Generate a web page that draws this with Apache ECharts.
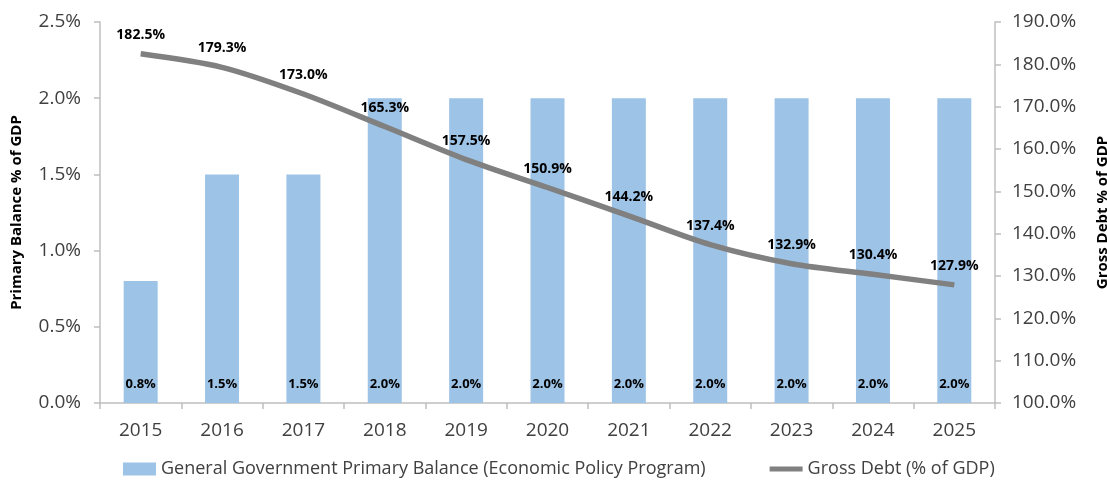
<!DOCTYPE html>
<html>
<head>
<meta charset="utf-8">
<script src="https://cdn.jsdelivr.net/npm/echarts@6/dist/echarts.min.js"></script>
<style>
  html, body { margin: 0; padding: 0; background: #fff; }
  #chart { width: 1107px; height: 483px; }
</style>
</head>
<body>
<div id="chart"></div>
<script>
// chart data
var years = ['2015', '2016', '2017', '2018', '2019', '2020', '2021', '2022', '2023', '2024', '2025']
var primaryBalance = [0.8, 1.5, 1.5, 2.0, 2.0, 2.0, 2.0, 2.0, 2.0, 2.0, 2.0]
var grossDebt = [182.5, 179.3, 173.0, 165.3, 157.5, 150.9, 144.2, 137.4, 132.9, 130.4, 127.9]

var barName = 'General Government Primary Balance (Economic Policy Program)'
var lineName = 'Gross Debt (% of GDP)'

var font = 'Open Sans'
var axisGray = '#bfbfbf'

var chart = echarts.init(document.getElementById('chart'))
chart.setOption({
  animation: false,
  textStyle: { fontFamily: font },
  grid: {
    left: 100,
    right: 112,
    top: 22,
    bottom: 80,
    containLabel: false,
    outerBoundsMode: 'none'
  },
  legend: {
    left: 118,
    bottom: 0,
    itemWidth: 33,
    itemHeight: 13,
    itemGap: 64,
    textStyle: { fontFamily: font, fontSize: 18, color: '#404040' },
    data: [
      { name: barName, icon: 'rect' },
      { name: lineName, icon: 'path://M0,0 L38,0 L38,6 L0,6 Z' }
    ]
  },
  xAxis: {
    type: 'category',
    data: years,
    axisLine: { lineStyle: { color: axisGray, width: 1.5 } },
    axisTick: { show: true, length: 6, lineStyle: { color: axisGray, width: 1.5 } },
    axisLabel: { fontSize: 19, color: '#404040', margin: 18 }
  },
  yAxis: [{
    type: 'value',
    min: 0,
    max: 2.5,
    interval: 0.5,
    name: 'Primary Balance % of GDP',
    nameLocation: 'middle',
    nameGap: 76,
    nameTextStyle: { fontFamily: font, fontSize: 15, fontWeight: 'bold', color: '#000' },
    axisLine: { show: true, lineStyle: { color: axisGray, width: 1.5 } },
    axisTick: { show: true, length: 6, lineStyle: { color: axisGray, width: 1.5 } },
    splitLine: { show: false },
    axisLabel: {
      fontSize: 19,
      color: '#404040',
      margin: 19,
      formatter: function (v) { return v.toFixed(1) + '%' }
    }
  }, {
    type: 'value',
    min: 100,
    max: 190,
    interval: 10,
    name: 'Gross Debt % of GDP',
    nameLocation: 'middle',
    nameGap: 100,
    nameTextStyle: { fontFamily: font, fontSize: 15, fontWeight: 'bold', color: '#000' },
    axisLine: { show: true, lineStyle: { color: axisGray, width: 1.5 } },
    axisTick: { show: true, length: 6, lineStyle: { color: axisGray, width: 1.5 } },
    splitLine: { show: false },
    axisLabel: {
      fontSize: 19,
      color: '#404040',
      margin: 17,
      formatter: function (v) { return v.toFixed(1) + '%' }
    }
  }],
  series: [{
    name: barName,
    type: 'bar',
    data: primaryBalance,
    barWidth: 34,
    itemStyle: { color: '#9dc3e6' },
    label: {
      show: true,
      position: 'insideBottom',
      distance: 12,
      fontFamily: font,
      fontSize: 13,
      fontWeight: 'bold',
      color: '#000',
      formatter: function (p) { return p.value.toFixed(1) + '%' }
    }
  }, {
    name: lineName,
    type: 'line',
    yAxisIndex: 1,
    data: grossDebt,
    smooth: 0.3,
    symbol: 'circle',
    symbolSize: 0,
    showSymbol: true,
    lineStyle: { color: '#808080', width: 5.5 },
    itemStyle: { color: '#808080' },
    label: {
      show: true,
      position: 'top',
      distance: 12,
      fontFamily: font,
      fontSize: 14,
      fontWeight: 'bold',
      color: '#000',
      formatter: function (p) { return p.value.toFixed(1) + '%' }
    }
  }]
})
</script>
</body>
</html>
